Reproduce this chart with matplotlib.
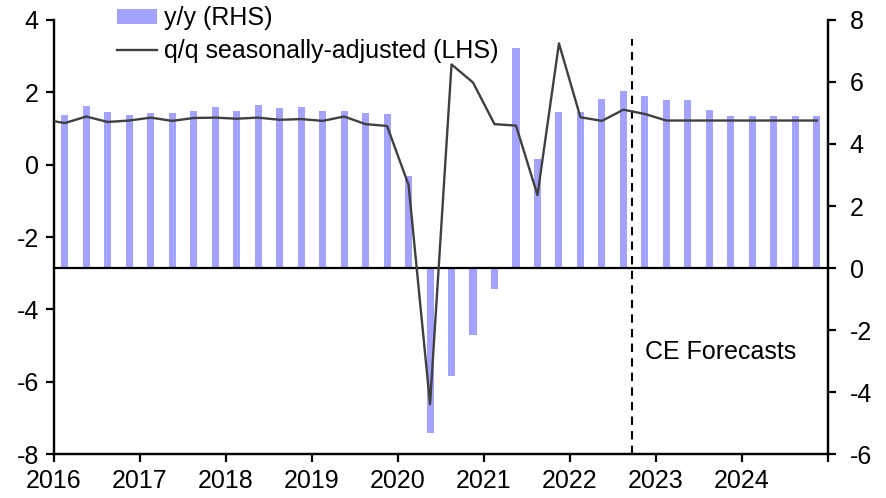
import matplotlib
matplotlib.use("Agg")
import matplotlib.pyplot as plt
import numpy as np

plt.rcParams['font.family'] = ['Liberation Sans', 'DejaVu Sans']
plt.rcParams['axes.unicode_minus'] = False

# Quarterly data, 2016Q1 .. 2024Q4 (bars), line starts 2015Q4
quarters = [f"{y}Q{q}" for y in range(2016, 2025) for q in range(1, 5)]
yy_rhs = [4.94, 5.23, 5.04, 4.94,
          5.01, 5.01, 5.07, 5.20,
          5.07, 5.27, 5.17, 5.20,
          5.07, 5.07, 5.01, 4.98,
          2.98, -5.31, -3.47, -2.15,
          -0.68, 7.09, 3.53, 5.04,
          5.04, 5.46, 5.72, 5.56,
          5.43, 5.43, 5.10, 4.91,
          4.91, 4.91, 4.91, 4.91]
qq_lhs = [1.25,
          1.15, 1.33, 1.18, 1.22,
          1.30, 1.21, 1.29, 1.30,
          1.27, 1.30, 1.24, 1.26,
          1.21, 1.33, 1.12, 1.07,
          -0.56, -6.62, 2.77, 2.27,
          1.12, 1.08, -0.84, 3.35,
          1.31, 1.21, 1.52, 1.40,
          1.22, 1.22, 1.22, 1.22,
          1.22, 1.22, 1.22, 1.22]
year_ticks = list(range(2016, 2026))
year_labels = [str(y) for y in range(2016, 2025)] + [""]
forecast_start = 2022.72

x_bars = np.array([2016 + i * 0.25 + 0.125 for i in range(len(yy_rhs))])
x_line = np.array([2015.875 + i * 0.25 for i in range(len(qq_lhs))])

fig = plt.figure(figsize=(8.86, 4.98), dpi=100)
ax = fig.add_axes([0.061, 0.088, 0.873, 0.872])
ax2 = ax.twinx()

bar_color = '#A3A3FF'
line_color = '#404040'
fs = 18

ax2.bar(x_bars, yy_rhs, width=0.082, color=bar_color, label='y/y (RHS)', zorder=2)
ax2.axhline(0, color='black', lw=1.6, zorder=3)
ax2.axvline(forecast_start, ymin=0, ymax=0.956, color='black', lw=1.5, ls=(0, (4, 3)), zorder=3)
ax2.text(2022.88, -2.71, 'CE Forecasts', fontsize=fs, va='center', ha='left')

ln, = ax.plot(x_line, qq_lhs, color=line_color, lw=1.7, label='q/q seasonally-adjusted (LHS)', zorder=4)

ax.set_zorder(ax2.get_zorder() + 1)
ax.patch.set_visible(False)

ax.set_xlim(2016, 2025)
ax.set_ylim(-8, 4)
ax2.set_ylim(-6, 8)
ax.set_yticks(range(-8, 5, 2))
ax2.set_yticks(range(-6, 9, 2))
ax.set_xticks(year_ticks)
ax.set_xticklabels(year_labels)

for a in (ax, ax2):
    a.spines['top'].set_visible(False)
    for s in ('left', 'right', 'bottom'):
        a.spines[s].set_linewidth(1.6)
        a.spines[s].set_color('black')
    a.tick_params(axis='both', which='both', labelsize=fs, width=1.6, length=6, direction='out', colors='black')
ax.tick_params(axis='x', pad=5)
ax.tick_params(axis='y', pad=5)
ax2.tick_params(axis='y', pad=10)

handles = [ax2.containers[0], ln]
labels = ['y/y (RHS)', 'q/q seasonally-adjusted (LHS)']
fig.legend(handles, labels, loc='upper left', bbox_to_anchor=(0.132, 0.987),
           frameon=False, fontsize=fs, handlelength=1.6, handletextpad=0.3,
           labelspacing=0.36, handleheight=0.5, borderaxespad=0, borderpad=0)

fig.savefig('out.png', dpi=100)
